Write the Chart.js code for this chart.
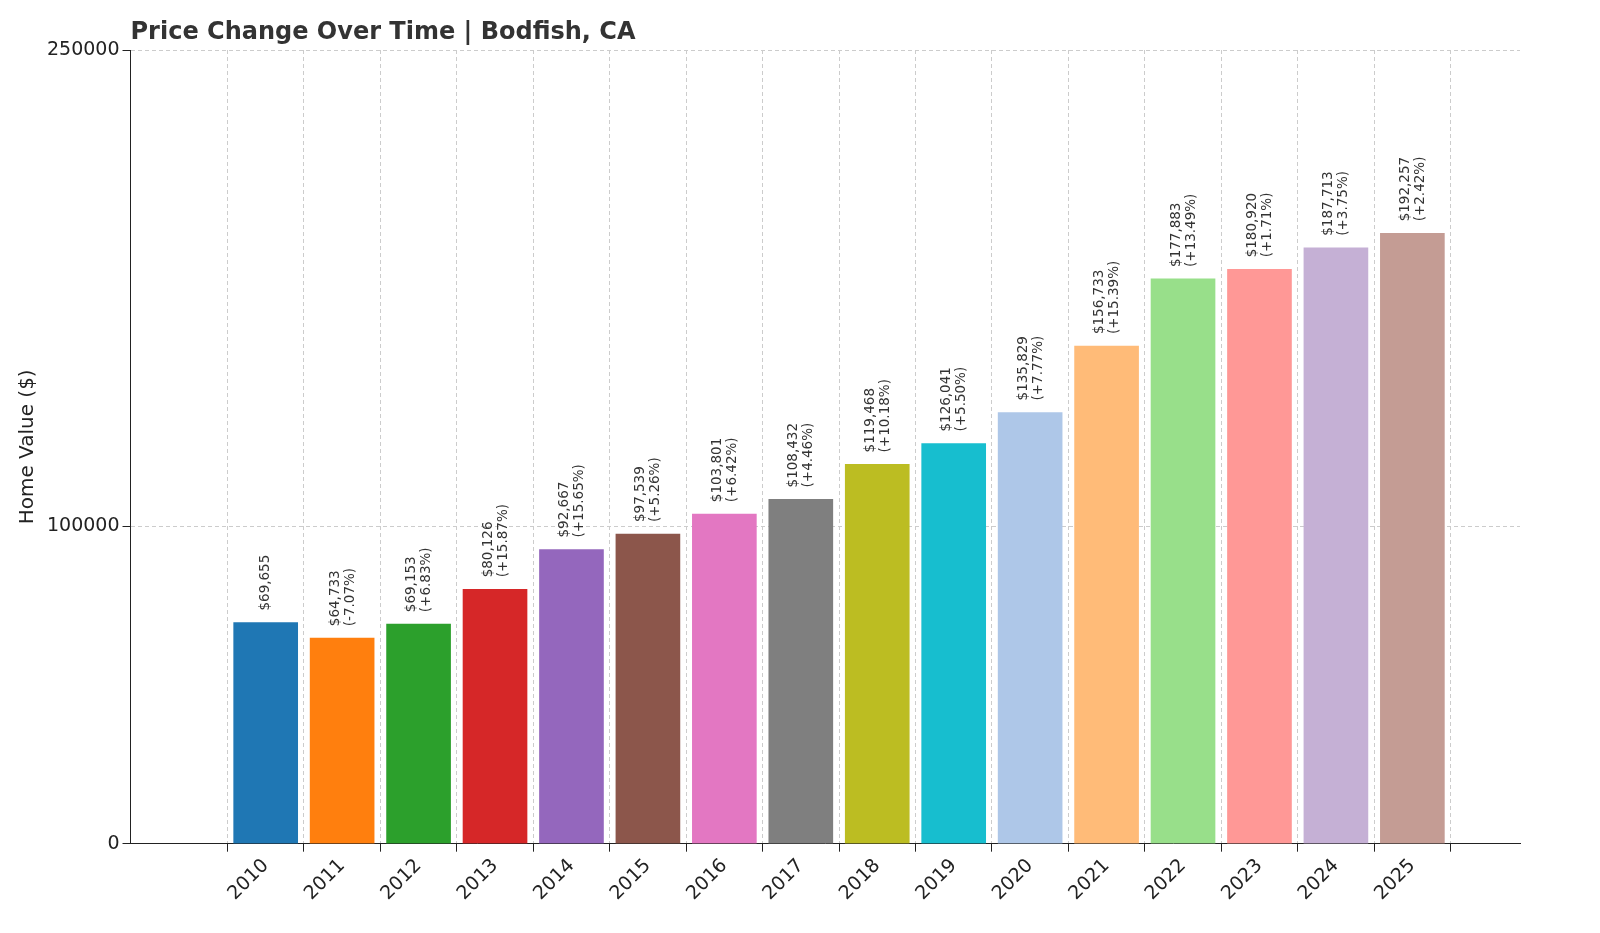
<!DOCTYPE html>
<html><head><meta charset="utf-8">
<script src="https://cdn.jsdelivr.net/npm/chart.js"></script>
<style>html,body{margin:0;background:#fff}#w{width:1600px;height:933px}</style>
</head><body><div id="w"><canvas id="c"></canvas></div>
<script>
const years=["2010","2011","2012","2013","2014","2015","2016","2017","2018","2019","2020","2021","2022","2023","2024","2025"];
const values=[69655,64733,69153,80126,92667,97539,103801,108432,119468,126041,135829,156733,177883,180920,187713,192257];
const changes=[null,"-7.07%","+6.83%","+15.87%","+15.65%","+5.26%","+6.42%","+4.46%","+10.18%","+5.50%","+7.77%","+15.39%","+13.49%","+1.71%","+3.75%","+2.42%"];
const yTicks=[0,100000,250000];
const colors=["#1f77b4","#ff7f0e","#2ca02c","#d62728","#9467bd","#8c564b","#e377c2","#7f7f7f","#bcbd22","#17becf","#aec7e8","#ffbb78","#98df8a","#ff9896","#c5b0d5","#c49c94"];
const F="DejaVu Sans";
const labelPlugin={id:'lbl',afterDatasetsDraw(ch){
  const ctx=ch.ctx;const meta=ch.getDatasetMeta(0);
  ctx.save();ctx.fillStyle="#333";ctx.font="bold 24px '"+F+"'";ctx.textBaseline="alphabetic";
  ctx.fillText("Price Change Over Time | Bodfish, CA",ch.chartArea.left,39);
  ctx.fillStyle="#333";ctx.font="13.5px '"+F+"'";ctx.textAlign="left";ctx.textBaseline="middle";
  meta.data.forEach((b,i)=>{
    ctx.save();ctx.translate(b.x,b.y-12);ctx.rotate(-Math.PI/2);
    const s="$"+values[i].toLocaleString("en-US");
    if(changes[i]){ctx.fillText(s,0,-7);ctx.fillText("("+changes[i]+")",0,8);}
    else ctx.fillText(s,0,0);
    ctx.restore();
  });ctx.restore();}};
new Chart(document.getElementById('c'),{type:'bar',
data:{datasets:[{data:values.map((v,i)=>({x:i,y:v})),backgroundColor:colors,barThickness:64}]},
options:{responsive:true,maintainAspectRatio:false,animation:false,
layout:{padding:{left:12,right:80,top:50,bottom:25}},
plugins:{legend:{display:false},tooltip:{enabled:false}},
scales:{
x:{type:'linear',min:-1.2,max:15.84,afterBuildTicks:(s)=>{s.ticks=years.map((y,i)=>({value:i}));},
grid:{color:"#ccc",tickColor:"#222"},border:{display:true,color:"#222",dash:[4,3]},
ticks:{color:"#222",font:{family:F,size:19},maxRotation:45,minRotation:45,callback:(v)=>years[v]}},
y:{min:0,max:250000,afterBuildTicks:(s)=>{s.ticks=yTicks.map(v=>({value:v}));},
grid:{color:"#ccc",tickColor:"#222"},border:{color:"#222",dash:[4,3]},
ticks:{color:"#222",font:{family:F,size:19},callback:v=>String(v)},
title:{display:true,text:"Home Value ($)",color:"#222",font:{family:F,size:20}}}}},
plugins:[labelPlugin]});
</script></body></html>
